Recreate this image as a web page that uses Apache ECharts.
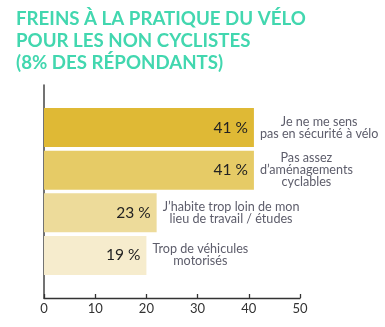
<!DOCTYPE html>
<html><head><meta charset="utf-8">
<script src="https://cdn.jsdelivr.net/npm/echarts@6/dist/echarts.min.js"></script>
<style>html,body{margin:0;padding:0;background:#fff}#c{width:385px;height:327px}</style>
</head><body><div id="c"></div>
<script>
// Data (top to bottom)
const categories = [
  "Je ne me sens\npas en sécurité à vélo",
  "Pas assez\nd’aménagements\ncyclables",
  "J’habite trop loin de mon\nlieu de travail / études",
  "Trop de véhicules\nmotorisés"
];
const values = [41, 41, 22, 20];
const valueLabels = ["41 %", "41 %", "23 %", "19 %"];
const barColors = ["#DFB935", "#E6CB66", "#EDDB9A", "#F6ECCD"];
const xTicks = [0, 10, 20, 30, 40, 50];
const titleText = "FREINS À LA PRATIQUE DU VÉLO\nPOUR LES NON CYCLISTES\n(8% DES RÉPONDANTS)";

// padded category axis (empty slot top and bottom), bottom-to-top order
const yCats = [""].concat(categories.slice().reverse()).concat([""]);
const vals = [null].concat(values.slice().reverse()).concat([null]);
const vlabs = [""].concat(valueLabels.slice().reverse()).concat([""]);
const cols = [null].concat(barColors.slice().reverse()).concat([null]);

const chart = echarts.init(document.getElementById('c'), null, {renderer: 'canvas'});
chart.setOption({
  animation: false,
  title: {
    text: titleText, left: 11, top: 3,
    textStyle: {fontFamily: 'Lato', fontWeight: 'bold', fontSize: 18.7, lineHeight: 22, color: '#42D7AF'}
  },
  grid: {left: 44, right: 85, top: 85, bottom: 29, containLabel: false},
  xAxis: {
    type: 'value', min: xTicks[0], max: xTicks[xTicks.length - 1], interval: 10,
    axisLine: {show: true, lineStyle: {color: '#333', width: 1.3}},
    axisTick: {show: true, inside: true, length: 4, lineStyle: {color: '#333', width: 1.3}},
    splitLine: {show: false},
    axisLabel: {color: '#333', fontFamily: 'Lato', fontSize: 13, margin: 4}
  },
  yAxis: {
    type: 'category', data: yCats, boundaryGap: false,
    axisLine: {show: true, lineStyle: {color: '#444', width: 1.5}},
    axisTick: {show: false}, axisLabel: {show: false}, splitLine: {show: false}
  },
  series: [
    {
      type: 'bar', barWidth: 39, barGap: '-100%',
      data: vals.map((v, i) => v == null ? null : {value: v, itemStyle: {color: cols[i]}}),
      label: {
        show: true, position: 'insideRight', distance: 6,
        formatter: p => vlabs[p.dataIndex],
        color: '#222', fontFamily: 'Lato', fontSize: 15.5
      }
    },
    {
      type: 'bar', barWidth: 39, barGap: '-100%', silent: true,
      data: vals.map(v => v),
      itemStyle: {color: 'rgba(0,0,0,0)'},
      label: {
        show: true, position: 'right', distance: 6,
        formatter: p => yCats[p.dataIndex].split('\n').map(s => '{t|' + s + '}').join('\n'),
        rich: {t: {align: 'center', color: '#5D5D6B', fontFamily: 'Lato', fontSize: 12.6, lineHeight: 12}}
      }
    }
  ]
});
</script></body></html>
